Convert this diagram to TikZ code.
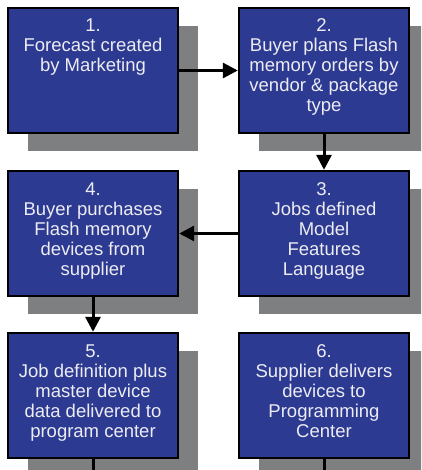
\documentclass[tikz,border=0pt]{standalone}
\usepackage{fontspec}
\setmainfont{Liberation Sans}
\usetikzlibrary{arrows.meta,shadows}
\definecolor{boxblue}{HTML}{2C3A92}
\definecolor{shadowgray}{HTML}{7E7F80}
\definecolor{txt}{HTML}{ECECF2}
\newcommand\bxt[1]{\parbox[c][125pt][t]{169pt}{\centering\rule{0pt}{24pt}#1}}
\tikzset{
  stepbox/.style={draw=black, line width=2.4pt, fill=boxblue, text=txt,
    inner sep=0pt, minimum width=170pt, minimum height=125pt,
    font=\fontsize{18.5}{20}\selectfont,
    drop shadow={shadow xshift=20pt, shadow yshift=-18pt, fill=shadowgray, opacity=1}},
  flow/.style={line width=3pt, -{Triangle[length=15pt,width=15pt]}},
  tail/.style={line width=3pt}
}
\begin{document}
\begin{tikzpicture}[x=1pt,y=-1pt]
\useasboundingbox (0,0) rectangle (421,470);
\clip (0,0) rectangle (421,470);
\fill[white] (0,0) rectangle (421,470);
\node[stepbox] (b1) at (93,70.5) {\bxt{1.\\Forecast created\\by Marketing}};
\node[stepbox] (b2) at (324,70.5) {\bxt{2.\\Buyer plans Flash\\memory orders by\\vendor \& package\\type}};
\node[stepbox] (b4) at (93,233.5) {\bxt{4.\\Buyer purchases\\Flash memory\\devices from\\supplier}};
\node[stepbox] (b3) at (324,233.5) {\bxt{3.\\Jobs defined\\Model\\Features\\Language}};
\node[stepbox] (b5) at (93,395.5) {\bxt{5.\\Job definition plus\\master device\\data delivered to\\program center}};
\node[stepbox] (b6) at (324,395.5) {\bxt{6.\\Supplier delivers\\devices to\\Programming\\Center}};
\coordinate (e5) at (93,475);
\coordinate (e6) at (324,475);
\draw[flow] (b1.east) -- (b2.west);
\draw[flow] (b2.south) -- (b3.north);
\draw[flow] (b3.west) -- (b4.east);
\draw[flow] (b4.south) -- (b5.north);
\draw[tail] (b5.south) -- (e5);
\draw[tail] (b6.south) -- (e6);
\end{tikzpicture}
\end{document}
